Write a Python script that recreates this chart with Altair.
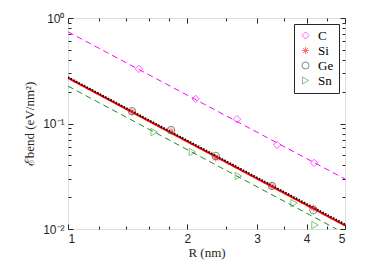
import altair as alt
import pandas as pd

series = ["C", "Si", "Ge", "Sn"]

c_r = [1.51, 2.10, 2.67, 3.37, 4.18]
c_e = [0.329, 0.171, 0.110, 0.0625, 0.0423]
si_r = [1.45, 1.82, 2.36, 3.27, 4.16]
si_e = [0.129, 0.085, 0.047, 0.0256, 0.0158]
ge_r = [1.45, 1.82, 2.36, 3.27, 4.16]
ge_e = [0.131, 0.0867, 0.0492, 0.0256, 0.0151]
sn_r = [1.65, 2.06, 2.69, 3.72, 4.20]
sn_e = [0.083, 0.0537, 0.0318, 0.0176, 0.0109]

line_r = [1, 5]
c_line = [0.74, 0.0298]
si_line = [0.27, 0.0108]
ge_line = [0.275, 0.0111]
sn_line = [0.226, 0.00904]

x_major = [1, 2, 3, 4, 5]
x_minor = [1.2, 1.4, 1.6, 1.8, 2.5, 3.5, 4.5]
y_major = [0.01, 0.1, 1]
y_minor = [0.02, 0.03, 0.04, 0.05, 0.06, 0.07, 0.08, 0.09,
           0.2, 0.3, 0.4, 0.5, 0.6, 0.7, 0.8, 0.9]

pts = []
for s, rr, ee in [("C", c_r, c_e), ("Si", si_r, si_e), ("Ge", ge_r, ge_e), ("Sn", sn_r, sn_e)]:
    for r, e in zip(rr, ee):
        pts.append({"series": s, "R": r, "E": e})
pts_df = pd.DataFrame(pts)

lns = []
for s, ee in [("C", c_line), ("Si", si_line), ("Ge", ge_line), ("Sn", sn_line)]:
    for r, e in zip(line_r, ee):
        lns.append({"series": s, "R": r, "E": e})
lns_df = pd.DataFrame(lns)

AX = "#262626"
SERIF = "Liberation Serif"
SANS = "Liberation Sans"
xs = alt.Scale(type="log", domain=[1, 5], nice=False, zero=False)
ys = alt.Scale(type="log", domain=[0.01, 1], nice=False, zero=False)

asterisk = "M-1,0L1,0M0,-1L0,1M-0.7,-0.7L0.7,0.7M-0.7,0.7L0.7,-0.7"

ylabel = ("datum.value == 1 ? '10\u2070' : datum.value == 0.1 ? '10\u207b\u00b9' : "
          "datum.value == 0.01 ? '10\u207b\u00b2' : ''")

main_x = alt.Axis(values=x_major, format="~g", tickSize={"expr": "-5"}, domain=False, grid=False,
                  labelFont=SANS, labelFontSize=12, labelColor=AX, tickColor=AX,
                  labelPadding=9, title="R (nm)", titleFont=SERIF, titleFontSize=13,
                  titleFontWeight="normal", titleColor=AX, titlePadding=2)
main_y = alt.Axis(values=y_major, labelExpr=ylabel, tickSize={"expr": "-5"}, domain=False, grid=False,
                  labelFont=SANS, labelFontSize=12, labelColor=AX, tickColor=AX,
                  labelPadding=9, title="\u2130bend (eV/nm\u00b2)", titleFont=SERIF,
                  titleFontSize=13, titleFontWeight="normal", titleColor=AX, titlePadding=6)

lines_base = alt.Chart(lns_df)

def line_layer(s, color, width, dash, axes):
    xa = main_x if axes else None
    ya = main_y if axes else None
    return lines_base.transform_filter(alt.datum.series == s).mark_line(
        clip=True, color=color, strokeWidth=width, strokeDash=dash
    ).encode(
        x=alt.X("R:Q", scale=xs, axis=xa),
        y=alt.Y("E:Q", scale=ys, axis=ya),
    )

l_c = line_layer("C", "#FF00FF", 1, [6, 4], True)
l_si = line_layer("Si", "#FF0000", 2, [1, 0], False)
l_ge = line_layer("Ge", "#000000", 1.8, [1.5, 1.5], False)
l_sn = line_layer("Sn", "#1E8C1E", 1, [6, 4], False)

points = alt.Chart(pts_df).mark_point(filled=False, strokeWidth=0.9, size=55, clip=True).encode(
    x=alt.X("R:Q", scale=xs, axis=None),
    y=alt.Y("E:Q", scale=ys, axis=None),
    color=alt.Color("series:N", scale=alt.Scale(domain=series,
                    range=["#FF00FF", "#FF2020", "#404040", "#3CA03C"]),
                    legend=alt.Legend(title=None, orient="top-right", offset=6,
                                      strokeColor=AX, fillColor="white", padding=5,
                                      labelFont=SERIF, labelFontSize=13,
                                      labelColor="#000000", symbolSize=50, symbolStrokeWidth=0.9,
                                      rowPadding=1, labelOffset=6)),
    shape=alt.Shape("series:N", scale=alt.Scale(domain=series,
                    range=["diamond", asterisk, "circle", "triangle-right"]), legend=alt.Legend(title=None)),
)

def axis_layer(ox, oy, xv, yv, size):
    return alt.Chart(lns_df).mark_point(opacity=0).encode(
        x=alt.X("R:Q", scale=xs, axis=alt.Axis(orient=ox, values=xv, labels=False, title=None,
                                               tickSize={"expr": str(-size)}, domain=False,
                                               grid=False, tickColor=AX)),
        y=alt.Y("E:Q", scale=ys, axis=alt.Axis(orient=oy, values=yv, labels=False, title=None,
                                               tickSize={"expr": str(-size)}, domain=False,
                                               grid=False, tickColor=AX)),
    )

a1 = axis_layer("bottom", "left", x_minor, y_minor, 3)
a2 = axis_layer("top", "right", x_major, y_major, 5)
a3 = axis_layer("top", "right", x_minor, y_minor, 3)

chart = alt.layer(l_c, l_si, l_ge, l_sn, points, a1, a2, a3).resolve_scale(
    x="independent", y="independent"
).properties(
    width=277, height=211,
    autosize=alt.AutoSizeParams(type="none"),
    padding={"left": 60, "top": 10, "right": 21, "bottom": 43},
).configure_view(stroke=AX, strokeWidth=1).configure(background="white", font=SERIF)

chart.save("out.html", embed_options={"renderer": "svg", "actions": False})
